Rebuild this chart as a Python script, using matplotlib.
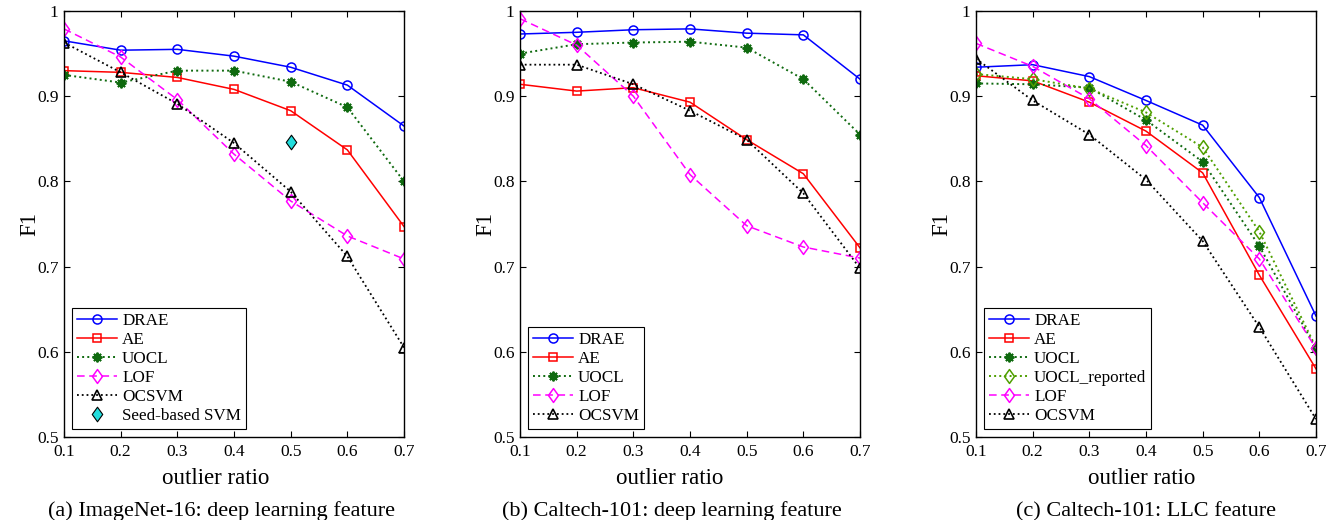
import numpy as np
import matplotlib
matplotlib.use("Agg")
import matplotlib.pyplot as plt
from matplotlib.path import Path

plt.rcParams['font.family'] = ['Liberation Serif', 'DejaVu Serif']

ratio = [0.1, 0.2, 0.3, 0.4, 0.5, 0.6, 0.7]

# (a) ImageNet-16: deep learning feature
a_drae = [0.965, 0.954, 0.955, 0.947, 0.934, 0.913, 0.865]
a_ae = [0.930, 0.928, 0.922, 0.908, 0.883, 0.837, 0.747]
a_uocl = [0.925, 0.916, 0.930, 0.930, 0.917, 0.887, 0.800]
a_lof = [0.979, 0.946, 0.896, 0.832, 0.777, 0.736, 0.709]
a_ocsvm = [0.963, 0.928, 0.891, 0.845, 0.788, 0.712, 0.605]
a_seed_x = [0.5]
a_seed = [0.846]

# (b) Caltech-101: deep learning feature
b_drae = [0.973, 0.975, 0.978, 0.979, 0.974, 0.972, 0.920]
b_ae = [0.914, 0.906, 0.910, 0.893, 0.849, 0.809, 0.722]
b_uocl = [0.950, 0.961, 0.963, 0.964, 0.957, 0.920, 0.855]
b_lof = [0.991, 0.960, 0.900, 0.808, 0.748, 0.723, 0.710]
b_ocsvm = [0.937, 0.937, 0.914, 0.883, 0.849, 0.786, 0.698]

# (c) Caltech-101: LLC feature
c_drae = [0.934, 0.937, 0.923, 0.895, 0.866, 0.781, 0.642]
c_ae = [0.924, 0.918, 0.893, 0.859, 0.810, 0.690, 0.580]
c_uocl = [0.915, 0.914, 0.910, 0.872, 0.823, 0.724, 0.604]
c_uocl_rep = [0.926, 0.920, 0.909, 0.881, 0.840, 0.741, 0.605]
c_lof = [0.962, 0.935, 0.897, 0.842, 0.775, 0.709, 0.604]
c_ocsvm = [0.944, 0.895, 0.855, 0.802, 0.730, 0.629, 0.521]

fig = plt.figure(figsize=(13.3, 5.2), dpi=100)
W, H = 1330.0, 520.0

def make_ax(left, right):
    return fig.add_axes([left / W, 1 - 437 / H, (right - left) / W, 426 / H])

ax_a = make_ax(64, 404)
ax_b = make_ax(520, 860)
ax_c = make_ax(976, 1316)

# matlab style diamond, a bit taller than wide
diamond = Path([(0, 1), (0.72, 0), (0, -1), (-0.72, 0), (0, 1)],
               [Path.MOVETO, Path.LINETO, Path.LINETO, Path.LINETO, Path.CLOSEPOLY])

blue = '#0000ff'
red = '#ff0000'
green = '#0f6a0f'
ygreen = '#4f9f00'
mag = '#ff00ff'
lw = 1.1

def draw(ax, drae, ae, uocl, lof, ocsvm, uocl_rep=None):
    ax.plot(ratio, drae, color=blue, ls='-', lw=lw, marker='o', ms=6.5, mfc='none', mew=1.1, label='DRAE')
    ax.plot(ratio, ae, color=red, ls='-', lw=lw, marker='s', ms=5.5, mfc='none', mew=1.1, label='AE')
    ax.plot(ratio, uocl, color=green, ls=':', lw=1.4, marker=(8, 2, 0), ms=7, mew=1.4, label='UOCL')
    if uocl_rep is not None:
        ax.plot(ratio, uocl_rep, color=ygreen, ls=':', lw=1.4, marker=diamond, ms=10, mfc='none', mew=1.1,
                label='UOCL_reported')
    ax.plot(ratio, lof, color=mag, ls=(0, (5, 3)), lw=lw, marker=diamond, ms=10, mfc='none', mew=1.1, label='LOF')
    ax.plot(ratio, ocsvm, color='black', ls=':', lw=1.3, marker='^', ms=7, mfc='none', mew=1.2, label='OCSVM')

draw(ax_a, a_drae, a_ae, a_uocl, a_lof, a_ocsvm)
ax_a.plot(a_seed_x, a_seed, ls='none', marker=diamond, ms=10.5, mfc='#22dddd', mec='black', mew=0.8,
          label='Seed-based SVM')
draw(ax_b, b_drae, b_ae, b_uocl, b_lof, b_ocsvm)
draw(ax_c, c_drae, c_ae, c_uocl, c_lof, c_ocsvm, uocl_rep=c_uocl_rep)

captions = ['(a) ImageNet-16: deep learning feature',
            '(b) Caltech-101: deep learning feature',
            '(c) Caltech-101: LLC feature']
caption_x = [221, 672, 1146]
xlabel_x = [216, 670, 1142]
axes_left = [64, 520, 976]

for ax, cap, cx, lx, left in zip([ax_a, ax_b, ax_c], captions, caption_x, xlabel_x, axes_left):
    ax.set_xlim(0.1, 0.7)
    ax.set_ylim(0.5, 1.0)
    ax.set_xticks(ratio)
    ax.set_xticklabels(['0.1', '0.2', '0.3', '0.4', '0.5', '0.6', '0.7'])
    ax.set_yticks([0.5, 0.6, 0.7, 0.8, 0.9, 1.0])
    ax.set_yticklabels(['0.5', '0.6', '0.7', '0.8', '0.9', '1'])
    ax.tick_params(direction='in', top=True, right=True, labelsize=12.5, length=4, width=0.8)
    ax.tick_params(axis='x', pad=5)
    ax.tick_params(axis='y', pad=4)
    for s in ax.spines.values():
        s.set_linewidth(1.0)
    ax.set_xlabel('outlier ratio', fontsize=16.5, va='center')
    ax.xaxis.set_label_coords((lx - left) / 340.0, -(478 - 437) / 426.0)
    ax.set_ylabel('F1', fontsize=16.5, va='center', ha='center')
    ax.yaxis.set_label_coords(-0.102, 0.5)
    leg = ax.legend(loc='lower left', fontsize=12.3, frameon=True, fancybox=False, edgecolor='black',
                    handlelength=2.35, handletextpad=0.3, labelspacing=0.18, borderpad=0.3,
                    borderaxespad=0.45, framealpha=1)
    leg.get_frame().set_linewidth(0.8)
    fig.text(cx / W, 1 - 516 / H, cap, ha='center', va='baseline', fontsize=16)

fig.savefig('out.png', dpi=100)
